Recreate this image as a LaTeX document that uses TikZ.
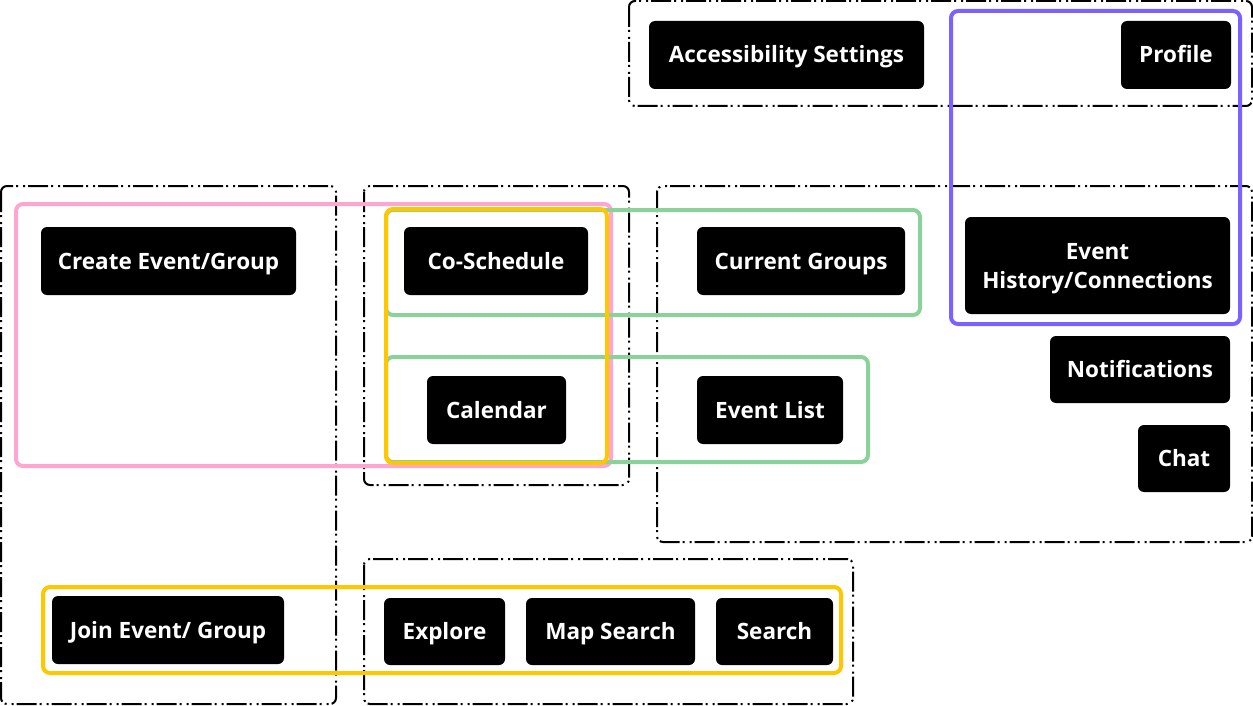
\documentclass[tikz,border=0pt]{standalone}
\usepackage{fontspec}
\setmainfont{Open Sans}
\usetikzlibrary{positioning}

\begin{document}
\begin{tikzpicture}[
	x=1pt, y=-1pt,
	% black screen boxes
	screen/.style={fill=black, text=white, rounded corners=6pt, inner sep=0pt,
		font=\fontsize{22.5}{29}\selectfont\bfseries, align=center,
		text height=16pt, text depth=0pt},
	% dash-dot group frames
	frame/.style={draw=black, line width=2pt, rounded corners=6pt,
		dash pattern=on 20pt off 3pt on 2pt off 5pt on 2pt off 3pt},
	flow/.style={line width=4pt, rounded corners=7pt}
	]
	\definecolor{FlowPink}{HTML}{FFA6D0}
	\definecolor{FlowYellow}{HTML}{FFC700}
	\definecolor{FlowGreen}{HTML}{8BD19A}
	\definecolor{FlowPurple}{HTML}{7B61FF}
	\useasboundingbox (0,0) rectangle (1253,706);

	% dashed frames
	\draw[frame] (629,1) rectangle (1252,106);
	\draw[frame] (1,186) rectangle (336,704);
	\draw[frame] (364,186) rectangle (629,485);
	\draw[frame] (657,186) rectangle (1252,542);
	\draw[frame] (364,559) rectangle (853,704);

	% coloured flows
	\draw[flow, FlowPink] (16,204) rectangle (611,466);
	\draw[flow, FlowGreen] (386,210) rectangle (920,315);
	\draw[flow, FlowGreen] (386,357) rectangle (868,462);
	\draw[flow, FlowYellow] (386,209) rectangle (607,463);
	\draw[flow, FlowYellow] (43,587) rectangle (841,673);
	\draw[flow, FlowPurple] (951,11) rectangle (1240,324);

	% screens
	\node[screen, minimum width=275, minimum height=68] (access) at (786.5,55) {Accessibility Settings};
	\node[screen, minimum width=110, minimum height=68] (profile) at (1176,55) {Profile};
	\node[screen, minimum width=255, minimum height=68] (create) at (168.5,261) {Create Event/Group};
	\node[screen, minimum width=184, minimum height=68] (cosched) at (496,261) {Co-Schedule};
	\node[screen, minimum width=139, minimum height=68] (calendar) at (496.5,410) {Calendar};
	\node[screen, minimum width=208, minimum height=68] (groups) at (801,261) {Current Groups};
	\node[screen, minimum width=146, minimum height=68] (eventlist) at (770,410) {Event List};
	\node[screen, minimum width=265, minimum height=97, text height=45pt] (history) at (1097.5,265.5) {Event\\History/Connections};
	\node[screen, minimum width=180, minimum height=67] (notif) at (1140,369.5) {Notifications};
	\node[screen, minimum width=92, minimum height=67] (chat) at (1184,458.5) {Chat};
	\node[screen, minimum width=232, minimum height=68] (join) at (168,630) {Join Event/ Group};
	\node[screen, minimum width=121, minimum height=67] (explore) at (444.5,631.5) {Explore};
	\node[screen, minimum width=169, minimum height=67] (mapsearch) at (610.5,631.5) {Map Search};
	\node[screen, minimum width=117, minimum height=67] (search) at (774.5,631.5) {Search};
\end{tikzpicture}
\end{document}
